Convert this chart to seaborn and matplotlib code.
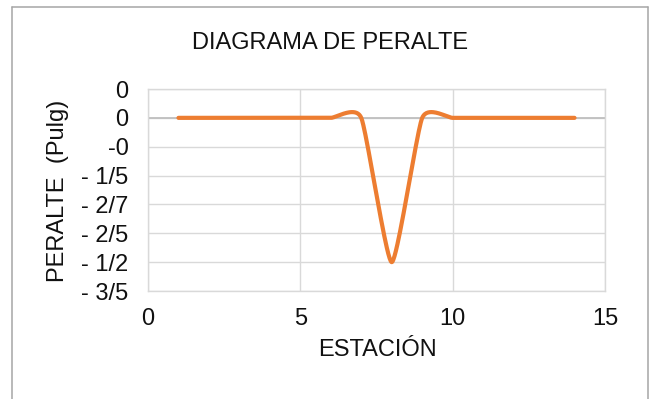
import numpy as np
import pandas as pd
import matplotlib
matplotlib.use("Agg")
import matplotlib.pyplot as plt
import seaborn as sns
from matplotlib.lines import Line2D

# ---- data ----
estacion = [1, 2, 3, 4, 5, 6, 7, 8, 9, 10, 11, 12, 13, 14]
peralte = [0.0, 0.0, 0.0, 0.0, 0.0, 0.0, 0.0, -0.5, 0.0, 0.0, 0.0, 0.0, 0.0, 0.0]
y_ticks = [0.1, 0.0, -0.1, -0.2, -0.3, -0.4, -0.5, -0.6]
y_tick_labels = ["0", "0", "-0", "- 1/5", "- 2/7", "- 2/5", "- 1/2", "- 3/5"]
x_ticks = [0, 5, 10, 15]
x_tick_labels = ["0", "5", "10", "15"]
title = "DIAGRAMA DE PERALTE"
x_label = "ESTACIÓN"
y_label = "PERALTE  (Pulg)"


def smooth(xs, ys, k=0.09, n=40):
    """Bezier smoothing through the points (spreadsheet-style smoothed line)."""
    P = np.column_stack([xs, ys]).astype(float)
    out = []
    for i in range(len(P) - 1):
        p0 = P[max(i - 1, 0)]
        p1 = P[i]
        p2 = P[i + 1]
        p3 = P[min(i + 2, len(P) - 1)]
        c1 = p1 + k * (p2 - p0)
        c2 = p2 - k * (p3 - p1)
        t = np.linspace(0, 1, n)[:, None]
        seg = (1 - t) ** 3 * p1 + 3 * t * (1 - t) ** 2 * c1 + 3 * t ** 2 * (1 - t) * c2 + t ** 3 * p2
        out.append(seg if i == 0 else seg[1:])
    return np.vstack(out)


sns.set_theme(style="white")
plt.rcParams["font.family"] = ["Liberation Sans", "DejaVu Sans"]

W, H = 653, 399
fig = plt.figure(figsize=(W / 100, H / 100), dpi=100)
L, R, T, B = 148, 605, 89, 291
ax = fig.add_axes([L / W, 1 - B / H, (R - L) / W, (B - T) / H])

curve = smooth(estacion, peralte)
df = pd.DataFrame({"x": curve[:, 0], "y": curve[:, 1]})

ax.set_xlim(0, 15)
ax.set_ylim(-0.6, 0.1)
ax.set_xticks(x_ticks)
ax.set_xticklabels(x_tick_labels)
ax.set_yticks(y_ticks)
ax.set_yticklabels(y_tick_labels)
ax.grid(True, color="#d9d9d9", linewidth=1.0)
ax.set_axisbelow(True)
for s in ax.spines.values():
    s.set_color("#d9d9d9")
    s.set_linewidth(1.0)
ax.axhline(0, color="#bfbfbf", linewidth=1.3, zorder=1.5)

sns.lineplot(data=df, x="x", y="y", sort=False, estimator=None,
             color="#ED7D31", linewidth=3.0, ax=ax, zorder=3)

ax.set_xlabel("")
ax.set_ylabel("")
ax.tick_params(axis="both", length=0, labelsize=17, colors="#111111")
ax.tick_params(axis="y", pad=14)
ax.tick_params(axis="x", pad=12.5)

fig.text(330 / W, 1 - 49 / H, title, ha="center", va="baseline", fontsize=17, color="#111111")
fig.text(377 / W, 1 - 356 / H, x_label, ha="center", va="baseline", fontsize=17, color="#111111")
fig.text(58 / W, 1 - 191 / H, y_label, ha="center", va="center", rotation=90, fontsize=17, color="#111111")

# chart-area border
bc = "#a6a6a6"
fig.add_artist(Line2D([11.5 / W, 11.5 / W], [0, 1 - 6.5 / H], transform=fig.transFigure, color=bc, lw=1.1))
fig.add_artist(Line2D([11.5 / W, 648 / W], [1 - 6.5 / H, 1 - 6.5 / H], transform=fig.transFigure, color=bc, lw=1.1))
fig.add_artist(Line2D([648 / W, 648 / W], [0, 1 - 6.5 / H], transform=fig.transFigure, color=bc, lw=1.1))

fig.savefig("out.png", dpi=100)
